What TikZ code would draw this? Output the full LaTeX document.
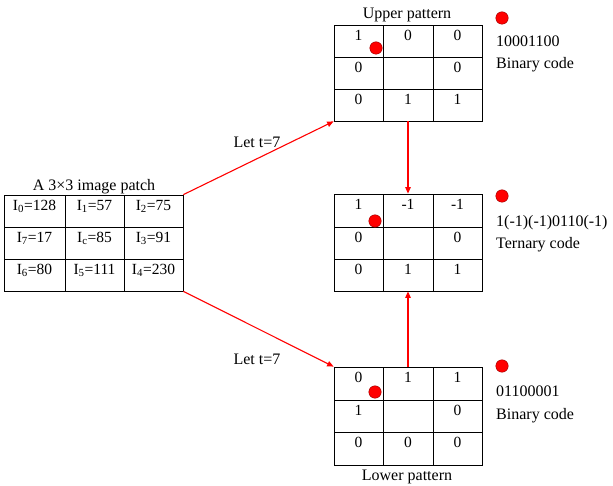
\documentclass[tikz,border=0pt]{standalone}
\usepackage{fontspec}
\setmainfont{Liberation Serif}
\usetikzlibrary{arrows.meta}
\begin{document}
\begin{tikzpicture}[x=1pt,y=-1pt,
  cell/.style={draw=black,line width=0.8pt,inner sep=0pt},
  txt/.style={inner sep=0pt,font=\fontsize{16}{19}\selectfont,anchor=base},
  ctxt/.style={inner sep=0pt,font=\fontsize{15.5}{19}\selectfont,anchor=base},
  rdot/.style={circle,fill=red,draw=red!60!black,line width=0.4pt,minimum size=12.5pt,inner sep=0pt},
  redarrow/.style={draw=red,line width=1.1pt,-{Triangle[length=6.5pt,width=5.5pt]}}]
\useasboundingbox (0,0) rectangle (613,486);
% left patch
\foreach \r/\ya/\yb in {1/195/227,2/227/259,3/259/291}
 \foreach \c/\xa/\xb in {1/4/65,2/65/124,3/124/183}
  \node[cell,minimum width={(\xb-\xa)*1pt},minimum height={(\yb-\ya)*1pt}] (P-\r-\c) at ({(\xa+\xb)/2},{(\ya+\yb)/2}) {};
% upper
\foreach \r/\ya/\yb in {1/25/57,2/57/89,3/89/121}
 \foreach \c/\xa/\xb in {1/334/383,2/383/433,3/433/482}
  \node[cell,minimum width={(\xb-\xa)*1pt},minimum height={(\yb-\ya)*1pt}] (U-\r-\c) at ({(\xa+\xb)/2},{(\ya+\yb)/2}) {};
% middle
\foreach \r/\ya/\yb in {1/194/227,2/227/259,3/259/291}
 \foreach \c/\xa/\xb in {1/334/383,2/383/433,3/433/482}
  \node[cell,minimum width={(\xb-\xa)*1pt},minimum height={(\yb-\ya)*1pt}] (M-\r-\c) at ({(\xa+\xb)/2},{(\ya+\yb)/2}) {};
% lower
\foreach \r/\ya/\yb in {1/367/400,2/400/432,3/432/465}
 \foreach \c/\xa/\xb in {1/334/383,2/383/433,3/433/482}
  \node[cell,minimum width={(\xb-\xa)*1pt},minimum height={(\yb-\ya)*1pt}] (W-\r-\c) at ({(\xa+\xb)/2},{(\ya+\yb)/2}) {};

% left patch texts
\node[txt] (ptitle) at (94,191) {A 3×3 image patch};
\node[ctxt] (pt11) at ([yshift=-16pt]P-1-1.north) {I\textsubscript{0}=128};
\node[ctxt] (pt12) at ([yshift=-16pt]P-1-2.north) {I\textsubscript{1}=57};
\node[ctxt] (pt13) at ([yshift=-16pt]P-1-3.north) {I\textsubscript{2}=75};
\node[ctxt] (pt21) at ([yshift=-16pt]P-2-1.north) {I\textsubscript{7}=17};
\node[ctxt] (pt22) at ([yshift=-16pt]P-2-2.north) {I\textsubscript{c}=85};
\node[ctxt] (pt23) at ([yshift=-16pt]P-2-3.north) {I\textsubscript{3}=91};
\node[ctxt] (pt31) at ([yshift=-16pt]P-3-1.north) {I\textsubscript{6}=80};
\node[ctxt] (pt32) at ([yshift=-16pt]P-3-2.north) {I\textsubscript{5}=111};
\node[ctxt] (pt33) at ([yshift=-16pt]P-3-3.north) {I\textsubscript{4}=230};

% upper texts
\node[txt] (utitle) at (407,18.5) {Upper pattern};
\foreach \r/\c/\v in {1/1/1,1/2/0,1/3/0,2/1/0,2/3/0,3/1/0,3/2/1,3/3/1}
  \node[ctxt] (ut-\r-\c) at ([yshift=-16pt]U-\r-\c.north) {\v};
% middle texts
\foreach \r/\c/\v in {1/1/1,1/2/-1,1/3/-1,2/1/0,2/3/0,3/1/0,3/2/1,3/3/1}
  \node[ctxt] (mt-\r-\c) at ([yshift=-16pt]M-\r-\c.north) {\v};
% lower texts
\foreach \r/\c/\v in {1/1/0,1/2/1,1/3/1,2/1/1,2/3/0,3/1/0,3/2/0,3/3/0}
  \node[ctxt] (wt-\r-\c) at ([yshift=-16pt]W-\r-\c.north) {\v};
\node[txt] (wtitle) at (407,480.5) {Lower pattern};

% dots in cells
\node[rdot] (du) at (376,48) {};
\node[rdot] (dm) at (375,221) {};
\node[rdot] (dw) at (375,392) {};
% dots on right
\node[rdot] (ru) at (502,18) {};
\node[rdot] (rm) at (502,196) {};
\node[rdot] (rw) at (502,366) {};

% right codes
\node[txt,anchor=base west] (cu1) at (496,46.7) {10001100};
\node[txt,anchor=base west] (cu2) at (496,68.3) {Binary code};
\node[txt,anchor=base west] (cm1) at (496,226.7) {1(-1)(-1)0110(-1)};
\node[txt,anchor=base west] (cm2) at (496,248.3) {Ternary code};
\node[txt,anchor=base west] (cw1) at (496,396.7) {01100001};
\node[txt,anchor=base west] (cw2) at (496,419) {Binary code};

% arrows
\draw[redarrow] (P-1-3.north east) -- (U-3-1.south west);
\draw[redarrow] (P-3-3.south east) -- (W-1-1.north west);
\draw[redarrow] (U-3-2.south) -- (M-1-2.north);
\draw[redarrow] (W-1-2.north) -- (M-3-2.south);
\node[txt] (lu) at (257,147.3) {Let t=7};
\node[txt] (lw) at (257,364) {Let t=7};
\end{tikzpicture}
\end{document}
